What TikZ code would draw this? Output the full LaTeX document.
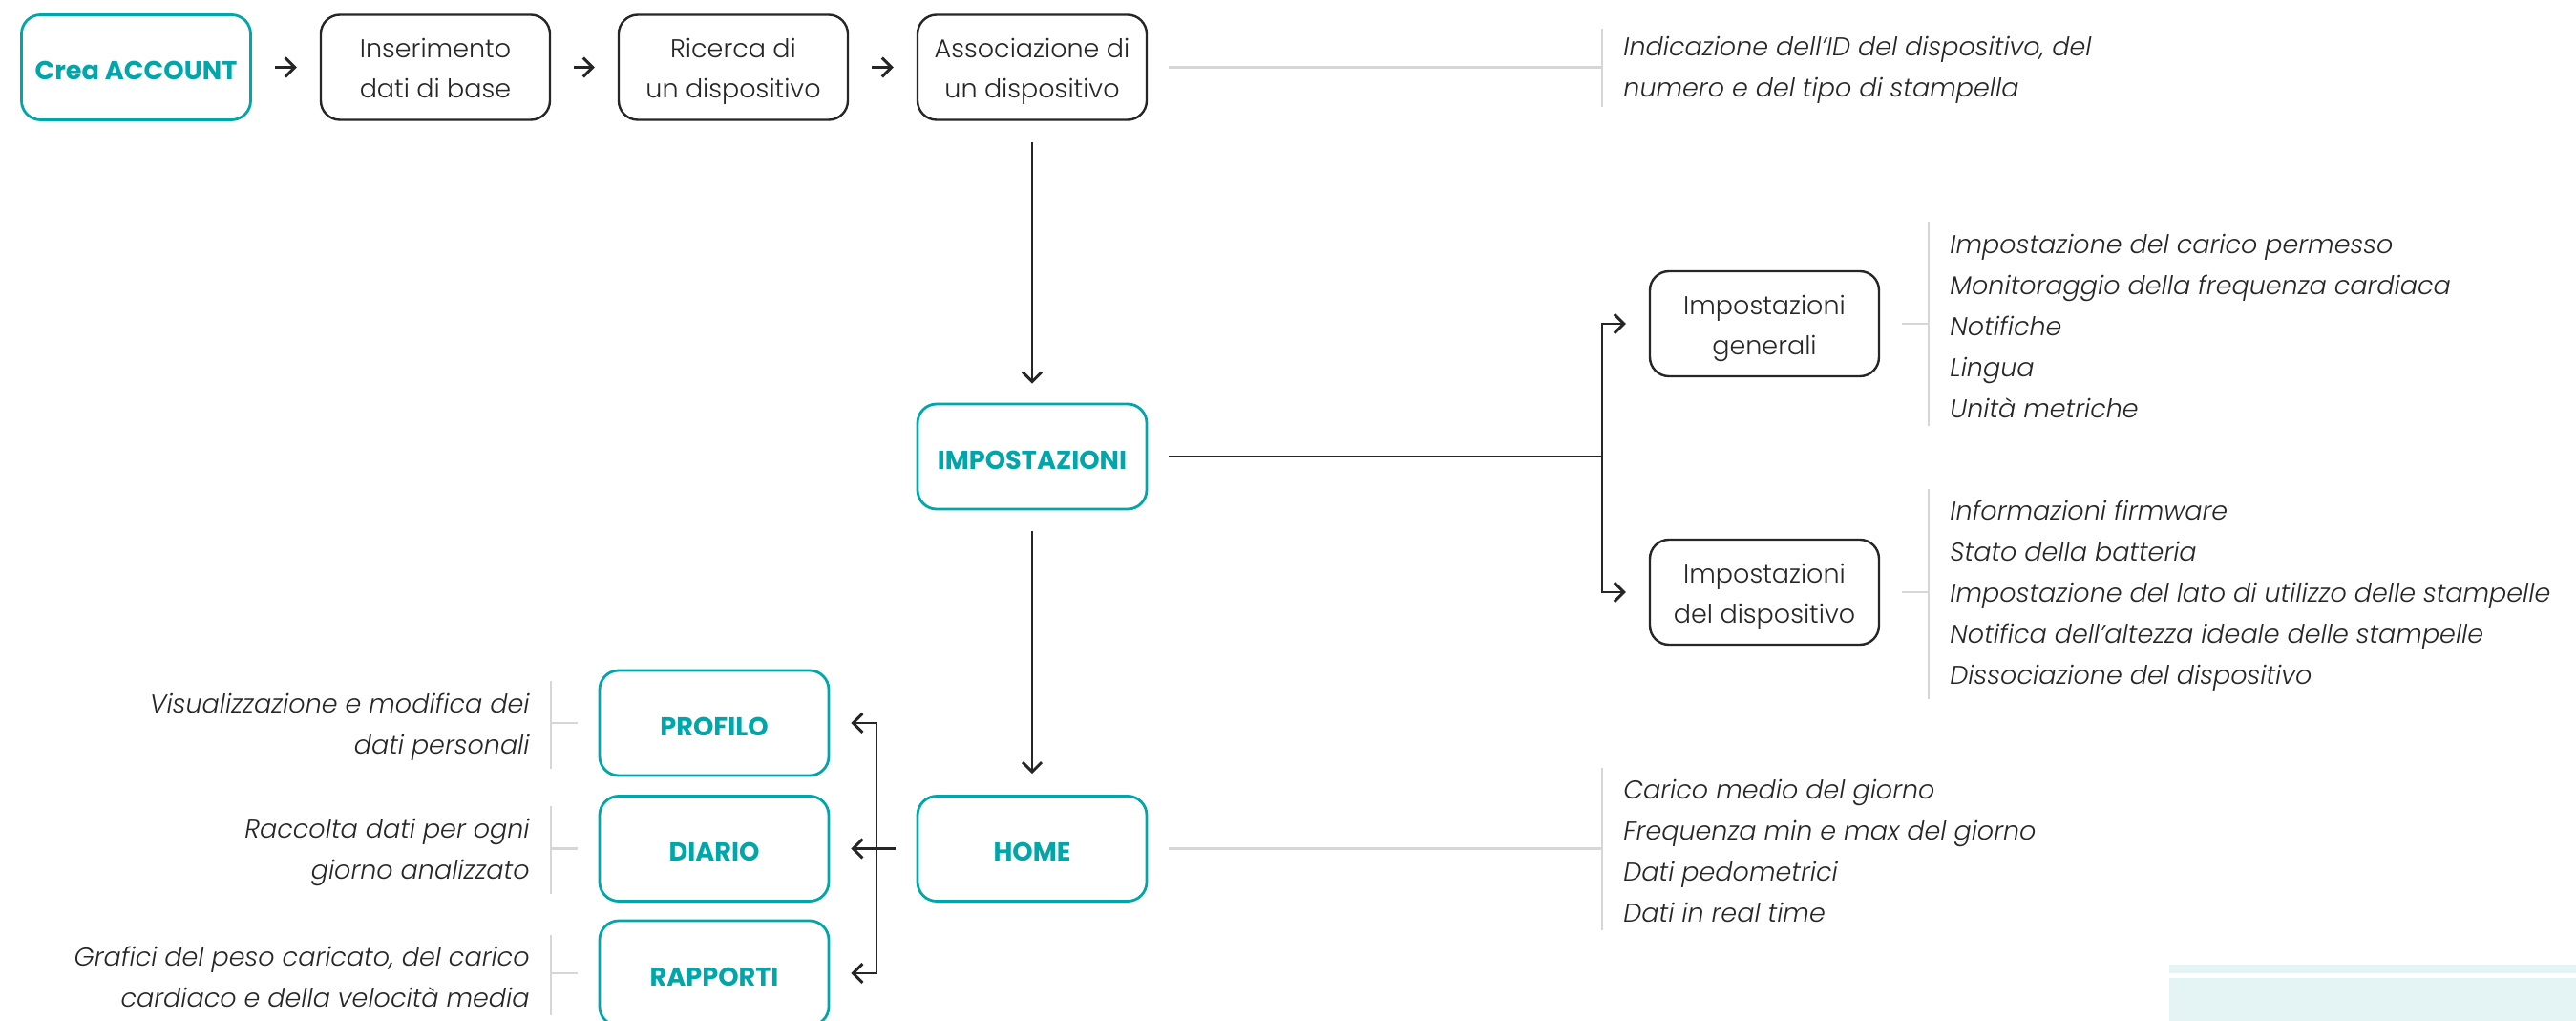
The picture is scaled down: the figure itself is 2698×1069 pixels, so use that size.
\documentclass[tikz,border=0pt]{standalone}
\usepackage{fontspec}
\setmainfont{Poppins}[UprightFont={* Light}, ItalicFont={* Light Italic}, BoldFont={* Bold}]
\usetikzlibrary{arrows.meta}
\definecolor{accent}{HTML}{00A6AA}
\definecolor{ink}{HTML}{262626}
\definecolor{rulegray}{HTML}{D6D6D6}
\definecolor{tint}{HTML}{E4F4F4}

\begin{document}
\begin{tikzpicture}[x=0.5pt,y=-0.5pt,
  stepbox/.style={draw=ink, line width=1.2pt, rounded corners=10pt,
    minimum width=120pt, minimum height=55pt, align=center, inner sep=0pt,
    text height=32.5pt, text depth=0pt,
    font=\fontsize{13.5}{21}\selectfont, text=ink},
  keybox/.style={stepbox, draw=accent, line width=1.4pt,
    text height=13pt, text depth=0pt,
    font=\fontsize{13.6}{21}\selectfont\bfseries, text=accent},
  flow/.style={draw=ink, line width=1.45pt, -{Straight Barb[length=5pt,width=10pt]}},
  link/.style={draw=ink, line width=1.45pt},
  guide/.style={draw=rulegray, line width=1.4pt},
  note/.style={font=\fontsize{13.5}{21.5}\selectfont\itshape, text=ink,
    align=left, inner xsep=11pt, inner ysep=4pt},
  lnote/.style={note, align=right}]

\path[use as bounding box] (0,0) rectangle (2698,1069);

% corner decoration
\fill[tint] (2272,1010) rectangle (2698,1019);
\fill[tint] (2272,1024) rectangle (2698,1069);

% main flow
\node[keybox]  (crea) at (142.5,70.5) {Crea ACCOUNT};
\node[stepbox] (ins)  at (456,70.5)   {Inserimento\\dati di base};
\node[stepbox] (ric)  at (768,70.5)   {Ricerca di\\un dispositivo};
\node[stepbox] (ass)  at (1081,70.5)  {Associazione di\\un dispositivo};
\node[keybox]  (imp)  at (1081,478)   {IMPOSTAZIONI};
\node[stepbox] (gen)  at (1848,339)   {Impostazioni\\generali};
\node[stepbox] (dis)  at (1848,620)   {Impostazioni\\del dispositivo};
\node[keybox]  (home) at (1081,888.5) {HOME};
\node[keybox]  (prof) at (748,757)    {PROFILO};
\node[keybox]  (diar) at (748,888.5)  {DIARIO};
\node[keybox]  (rapp) at (748,1019)   {RAPPORTI};

% descriptions
\node[note, anchor=west, inner ysep=1.5pt] (assn) at (1678,73)
  {Indicazione dell’ID del dispositivo, del\\numero e del tipo di stampella};
\node[note, anchor=west] (genn) at (2020,341)
  {Impostazione del carico permesso\\Monitoraggio della frequenza cardiaca\\Notifiche\\Lingua\\Unità metriche};
\node[note, anchor=west] (disn) at (2020,624)
  {Informazioni firmware\\Stato della batteria\\Impostazione del lato di utilizzo delle stampelle\\Notifica dell’altezza ideale delle stampelle\\Dissociazione del dispositivo};
\node[note, anchor=west] (homen) at (1678,891)
  {Carico medio del giorno\\Frequenza min e max del giorno\\Dati pedometrici\\Dati in real time};
\node[lnote, anchor=east] (profn) at (577,761)
  {Visualizzazione e modifica dei\\dati personali};
\node[lnote, anchor=east] (diarn) at (577,892)
  {Raccolta dati per ogni\\giorno analizzato};
\node[lnote, anchor=east] (rappn) at (577,1023)
  {Grafici del peso caricato, del carico\\cardiaco e della velocità media};

% guide rules to descriptions
\foreach \n in {assn,genn,disn,homen}
  \draw[guide] ([yshift=2pt]\n.north west) -- (\n.south west);
\foreach \n in {profn,diarn,rappn}
  \draw[guide] ([yshift=2pt]\n.north east) -- (\n.south east);
\draw[guide] ([xshift=11pt]ass.east) -- (ass.east -| assn.west);
\draw[guide] ([xshift=11.5pt]gen.east) -- (gen.east -| genn.west);
\draw[guide] ([xshift=11.5pt]dis.east) -- (dis.east -| disn.west);
\draw[guide] ([xshift=11pt]home.east) -- (home.east -| homen.west);
\draw[guide] ([xshift=-11pt]prof.west) -- (prof.west -| profn.east);
\draw[guide] ([xshift=-11pt]diar.west) -- (diar.west -| diarn.east);
\draw[guide] ([xshift=-11pt]rapp.west) -- (rapp.west -| rappn.east);

% connectors
\draw[flow] ([xshift=12pt]crea.east) -- ([xshift=-12pt]ins.west);
\draw[flow] ([xshift=12pt]ins.east) -- ([xshift=-12pt]ric.west);
\draw[flow] ([xshift=12pt]ric.east) -- ([xshift=-12pt]ass.west);
\draw[flow] ([yshift=-11pt]ass.south) -- ([yshift=10pt]imp.north);
\draw[flow] ([yshift=-11pt]imp.south) -- ([yshift=11pt]home.north);

\coordinate (setbus) at (1678,478);
\draw[link] ([xshift=11pt]imp.east) -- (setbus);
\draw[flow] (setbus) |- ([xshift=-12pt]gen.west);
\draw[flow] (setbus) |- ([xshift=-12pt]dis.west);

\coordinate (homebus) at (918,888.5);
\draw[flow] ([xshift=-11pt]home.west) -- ([xshift=11pt]diar.east);
\draw[flow] (homebus) |- ([xshift=11pt]prof.east);
\draw[flow] (homebus) |- ([xshift=11pt]rapp.east);
\end{tikzpicture}
\end{document}
